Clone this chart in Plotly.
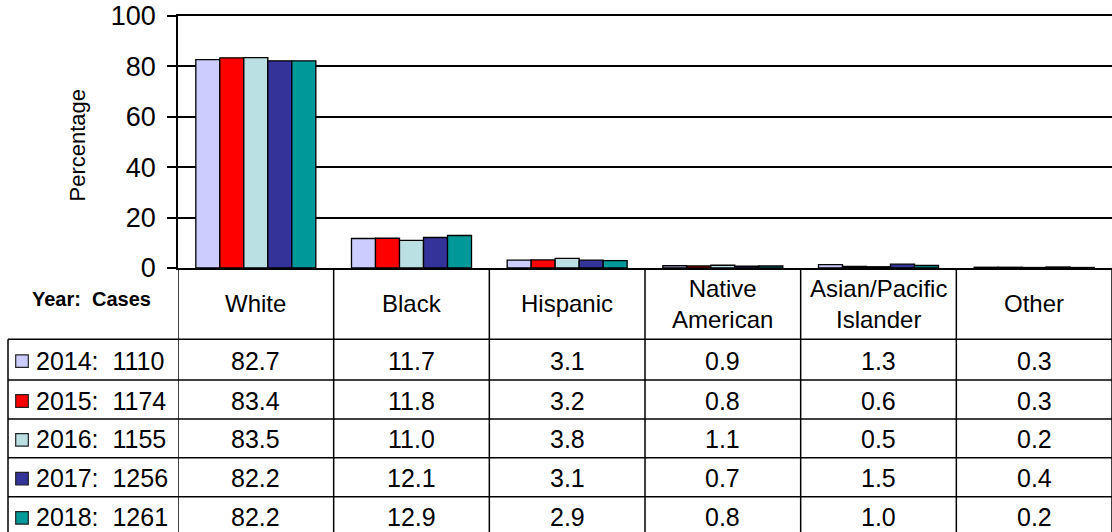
import plotly.graph_objects as go

# Race/ethnicity distribution of cases, by year
categories = ["White", "Black", "Hispanic", "Native American", "Asian/Pacific Islander", "Other"]
header_labels = ["White", "Black", "Hispanic", "Native<br>American", "Asian/Pacific<br>Islander", "Other"]
years = ["2014", "2015", "2016", "2017", "2018"]
cases = [1110, 1174, 1155, 1256, 1261]

pct_2014 = [82.7, 11.7, 3.1, 0.9, 1.3, 0.3]
pct_2015 = [83.4, 11.8, 3.2, 0.8, 0.6, 0.3]
pct_2016 = [83.5, 11.0, 3.8, 1.1, 0.5, 0.2]
pct_2017 = [82.2, 12.1, 3.1, 0.7, 1.5, 0.4]
pct_2018 = [82.2, 12.9, 2.9, 0.8, 1.0, 0.2]
series = [pct_2014, pct_2015, pct_2016, pct_2017, pct_2018]

colors = ["#CCCCFF", "#FF0000", "#BBE0E3", "#333399", "#009999"]

W, H = 1112, 532
FONT = "Liberation Sans, Arial, sans-serif"


def px(x):
    return x / W


def py(y):
    return 1 - y / H


# pixel geometry of the plot area and the data table under it
PLOT_L, PLOT_T, PLOT_B = 178, 16, 268
TABLE_L = 8
row_lines = [339.3, 380.0, 419.0, 457.7, 496.7, 536.0]

fig = go.Figure()
for yr, vals, col in zip(years, series, colors):
    fig.add_trace(go.Bar(
        x=categories, y=vals, name=yr,
        marker=dict(color=col, line=dict(color="#000000", width=1.3)),
        hovertemplate="%{x}: %{y}<extra>" + yr + "</extra>",
    ))

shapes = []
# column borders of the table, continuing the category slots
for i in range(len(categories) + 1):
    shapes.append(dict(type="line", xref="x", yref="paper",
                       x0=i - 0.5, x1=i - 0.5, y0=py(PLOT_B), y1=py(545),
                       line=dict(color="#000000", width=1.5)))
# row borders
for yl in row_lines[:-1]:
    shapes.append(dict(type="line", xref="paper", yref="paper",
                       x0=px(TABLE_L), x1=1.01, y0=py(yl), y1=py(yl),
                       line=dict(color="#000000", width=1.5)))
# left border of the legend column
shapes.append(dict(type="line", xref="paper", yref="paper",
                   x0=px(TABLE_L), x1=px(TABLE_L), y0=py(row_lines[0]), y1=py(545),
                   line=dict(color="#000000", width=1.5)))

annotations = []
# header row
header_mid = (PLOT_B + row_lines[0]) / 2
for i, lab in enumerate(header_labels):
    annotations.append(dict(text=lab, xref="x", yref="paper", x=i, y=py(header_mid),
                            showarrow=False, xanchor="center", yanchor="middle",
                            font=dict(family=FONT, size=24, color="#000000")))
annotations.append(dict(text="<b>Year:\u00a0\u00a0Cases</b>", xref="paper", yref="paper",
                        x=px(91.5), y=py(299), showarrow=False,
                        xanchor="center", yanchor="middle",
                        font=dict(family=FONT, size=20, color="#000000")))

# data rows
for r, (yr, n, vals, col) in enumerate(zip(years, cases, series, colors)):
    mid = (row_lines[r] + row_lines[r + 1]) / 2
    s = 12.6
    shapes.append(dict(type="rect", xref="paper", yref="paper",
                       x0=px(15.7), x1=px(15.7 + s),
                       y0=py(mid + 1.5 - s / 2), y1=py(mid + 1.5 + s / 2),
                       fillcolor=col, line=dict(color="#222222", width=1.2)))
    annotations.append(dict(text=f"{yr}:\u00a0\u00a0{n}", xref="paper", yref="paper",
                            x=px(34), y=py(mid + 1), showarrow=False,
                            xanchor="left", yanchor="middle",
                            font=dict(family=FONT, size=25, color="#000000")))
    for i, v in enumerate(vals):
        annotations.append(dict(text=f"{v:.1f}", xref="x", yref="paper",
                                x=i, y=py(mid + 1), showarrow=False,
                                xanchor="center", yanchor="middle",
                                font=dict(family=FONT, size=25, color="#000000")))

# y-axis title
annotations.append(dict(text="Percentage", xref="paper", yref="paper",
                        x=px(77), y=py(145.5), showarrow=False, textangle=-90,
                        xanchor="center", yanchor="middle",
                        font=dict(family=FONT, size=22, color="#000000")))

fig.update_layout(
    width=W, height=H,
    margin=dict(l=0, r=0, t=0, b=0),
    paper_bgcolor="#FFFFFF", plot_bgcolor="#FFFFFF",
    barmode="group", bargap=0.229, bargroupgap=0,
    showlegend=False,
    shapes=shapes, annotations=annotations,
    xaxis=dict(domain=[px(PLOT_L), 1], range=[-0.5, 5.5],
               showticklabels=False, ticks="", showgrid=False,
               showline=True, linecolor="#000000", linewidth=2, mirror=True,
               zeroline=False, fixedrange=True, automargin=False),
    yaxis=dict(domain=[py(PLOT_B), py(PLOT_T)], range=[0, 100], dtick=20,
               tickfont=dict(family=FONT, size=27, color="#000000"),
               ticks="outside", ticklen=9, tickwidth=1.5, tickcolor="#000000",
               ticklabelstandoff=6,
               showgrid=True, gridcolor="#000000", gridwidth=1.5,
               showline=True, linecolor="#000000", linewidth=1.5,
               zeroline=False, fixedrange=True, automargin=False),
)

fig.write_html("out.html")
